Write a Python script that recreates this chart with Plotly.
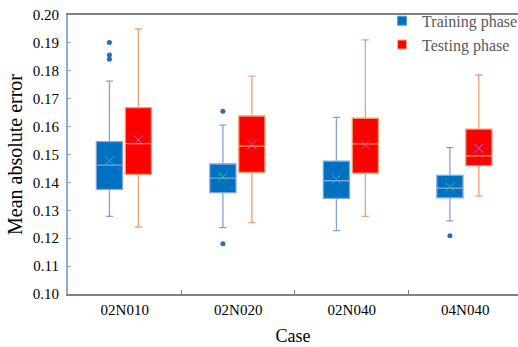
import plotly.graph_objects as go

categories = ["02N010", "02N020", "02N040", "04N040"]

train_low = [0.1278, 0.1238, 0.1227, 0.1262]
train_q1 = [0.1375, 0.1363, 0.1343, 0.1345]
train_median = [0.1462, 0.1415, 0.1406, 0.1379]
train_q3 = [0.1546, 0.1466, 0.1476, 0.1425]
train_high = [0.1763, 0.1605, 0.1633, 0.1525]
train_mean = [0.1478, 0.1420, 0.1411, 0.1384]

test_low = [0.1240, 0.1256, 0.1278, 0.1351]
test_q1 = [0.1429, 0.1436, 0.1433, 0.1460]
test_median = [0.1539, 0.1530, 0.1538, 0.1495]
test_q3 = [0.1668, 0.1638, 0.1630, 0.1591]
test_high = [0.1950, 0.1781, 0.1911, 0.1785]
test_mean = [0.1552, 0.1535, 0.1535, 0.1522]

# training-phase outliers: (category index, value)
train_outlier_cat = [0, 0, 0, 1, 1, 3]
train_outlier_val = [0.1901, 0.1857, 0.1841, 0.1655, 0.1180, 0.1209]

TRAIN_OFF = -0.135
TEST_OFF = 0.12
BOX_W = 0.23

idx = list(range(len(categories)))
boundaries = [i + 0.5 for i in idx[:-1]]
train_x = [i + TRAIN_OFF for i in idx]
test_x = [i + TEST_OFF for i in idx]

fig = go.Figure()

fig.add_trace(go.Box(
    x=train_x, q1=train_q1, median=train_median, q3=train_q3,
    lowerfence=train_low, upperfence=train_high,
    width=BOX_W, whiskerwidth=0.27,
    fillcolor="#0070C0", line=dict(color="#7FA3DA", width=1.3),
    boxpoints=False, showlegend=False, name="Training phase",
))
fig.add_trace(go.Box(
    x=test_x, q1=test_q1, median=test_median, q3=test_q3,
    lowerfence=test_low, upperfence=test_high,
    width=BOX_W, whiskerwidth=0.27,
    fillcolor="#FF0000", line=dict(color="#EDA070", width=1.3),
    boxpoints=False, showlegend=False, name="Testing phase",
))

# mean markers
fig.add_trace(go.Scatter(
    x=train_x, y=train_mean, mode="markers", showlegend=False,
    marker=dict(symbol="x-thin-open", size=9, line=dict(color="#6A8FCC", width=1)),
))
fig.add_trace(go.Scatter(
    x=test_x, y=test_mean, mode="markers", showlegend=False,
    marker=dict(symbol="x-thin-open", size=9, line=dict(color="#C8702A", width=1)),
))

# outliers
fig.add_trace(go.Scatter(
    x=[c + TRAIN_OFF for c in train_outlier_cat], y=train_outlier_val,
    mode="markers", showlegend=False,
    marker=dict(symbol="circle", size=5, color="#1F6FC5"),
))

# legend entries (on overlay axis carrying the category labels)
fig.add_trace(go.Scatter(
    x=[None], y=[None], mode="markers", name="Training phase", xaxis="x2",
    marker=dict(symbol="square", size=9, color="#0070C0", line=dict(color="#5B9BD5", width=1)),
))
fig.add_trace(go.Scatter(
    x=[None], y=[None], mode="markers", name="Testing phase", xaxis="x2",
    marker=dict(symbol="square", size=9, color="#FF0000", line=dict(color="#F4B183", width=1)),
))

XR = [-0.5, 3.465]

fig.update_layout(
    width=518, height=347,
    margin=dict(l=68, r=0, t=15, b=53, autoexpand=False),
    paper_bgcolor="white", plot_bgcolor="white",
    font=dict(family="Liberation Serif, Times New Roman, serif", size=15, color="#000000"),
    legend=dict(
        x=0.698, y=1.04, xanchor="left", yanchor="top",
        bgcolor="rgba(0,0,0,0)", font=dict(size=16, color="#595959"),
        itemwidth=30, tracegroupgap=0,
    ),
    xaxis=dict(
        range=XR,
        tickmode="array", tickvals=boundaries, ticktext=["" for _ in boundaries],
        ticks="inside", ticklen=4, tickcolor="#808080", tickwidth=1,
        showgrid=False, zeroline=False,
        showline=True, linecolor="#808080", linewidth=2, mirror=True,
        title=dict(text="Case", font=dict(size=18), standoff=31),
    ),
    xaxis2=dict(
        range=XR, overlaying="x", anchor="y", side="bottom",
        tickmode="array", tickvals=idx, ticktext=categories,
        ticks="", showgrid=False, zeroline=False, showline=False,
        tickfont=dict(size=15), ticklabelstandoff=5,
    ),
    yaxis=dict(
        range=[0.10, 0.20], dtick=0.01, tickformat=".2f",
        ticks="inside", ticklen=3, tickcolor="#8EA9DB", tickwidth=1,
        showgrid=False, zeroline=False,
        showline=True, linecolor="#8EA9DB", linewidth=2, mirror=False,
        title=dict(text="Mean absolute error", font=dict(size=20), standoff=5),
        tickfont=dict(size=15),
        ticklabelstandoff=4,
    ),
)

fig.write_html(
    "out.html",
    config={"displayModeBar": False},
    post_script="document.body.style.margin='0';",
)
